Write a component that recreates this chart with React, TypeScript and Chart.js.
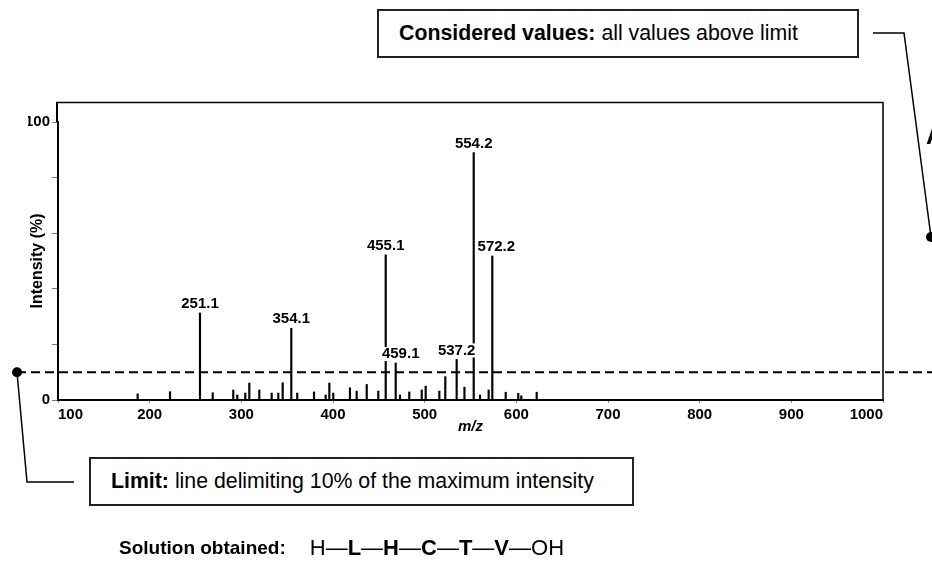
import React, { useEffect, useRef } from 'react';
import { Chart, registerables } from 'chart.js';

Chart.register(...registerables);

// ---- data ----
const minorMz = [186.9, 222.2, 268.8, 291.2, 295.6, 304.3, 308.7, 319.6, 333.1, 340.3, 345.1, 361, 379.3, 392, 396, 400.3, 418.5, 425.8, 436.8, 449.4, 473.1, 483.2, 496.8, 501.1, 516, 522.5, 543.4, 560.4, 569.8, 588.4, 602.1, 605.4, 622.2];
const minorIntensity = [2.2, 3.0, 2.6, 3.6, 1.8, 2.5, 6.1, 3.6, 2.5, 2.5, 6.2, 2.5, 2.9, 1.8, 6.1, 2.5, 4.4, 3.2, 5.6, 3.2, 1.8, 2.9, 3.6, 5.0, 3.2, 8.4, 4.6, 1.8, 3.6, 2.8, 2.4, 1.5, 2.8];
const labeledMz = [254.9, 354.5, 457.5, 468.4, 534.9, 553.5, 573.8];
const labeledIntensity = [31.3, 25.8, 52.2, 13.3, 14.6, 89, 51.8];
const labeledText = ['251.1', '354.1', '455.1', '459.1', '537.2', '554.2', '572.2'];
const xMin = 100;
const xMax = 1000;
const xStep = 100;
const yMin = 0;
const yMax = 100;
const frameTop = 107;
const yTicks = [0, 20, 40, 60, 80, 100];
const yLabeledTicks = [0, 100];
const limitPercent = 10;

const FONT = '"Liberation Sans", Arial, Helvetica, sans-serif';
const LABEL_DX: Record<string, number> = { '459.1': 5, '572.2': 4 };

const overlayPlugin = {
  id: 'overlay',
  afterDatasetsDraw(chart: any) {
    const { ctx, chartArea } = chart;
    const x = chart.scales.x;
    const y = chart.scales.y;
    const ft = y.getPixelForValue(frameTop);
    ctx.save();
    // frame: extension of the left axis, top and right lines
    ctx.strokeStyle = '#000';
    ctx.lineWidth = 2;
    ctx.beginPath();
    ctx.moveTo(chartArea.left - 1, chartArea.top);
    ctx.lineTo(chartArea.left - 1, ft);
    ctx.stroke();
    ctx.lineWidth = 1.5;
    ctx.beginPath();
    ctx.moveTo(chartArea.left - 2, ft);
    ctx.lineTo(chartArea.right, ft);
    ctx.lineTo(chartArea.right, chartArea.bottom);
    ctx.stroke();

    // peak labels
    ctx.font = 'bold 15px ' + FONT;
    ctx.textAlign = 'center';
    ctx.textBaseline = 'middle';
    labeledMz.forEach((mz, i) => {
      const t = labeledText[i];
      const px = x.getPixelForValue(mz) + (LABEL_DX[t] || 0);
      const py = y.getPixelForValue(labeledIntensity[i]) - 9;
      const w = ctx.measureText(t).width;
      ctx.fillStyle = '#fff';
      ctx.fillRect(px - w / 2 - 1, py - 7, w + 2, 14);
      ctx.fillStyle = '#000';
      ctx.fillText(t, px, py);
    });

    // limit dashed line
    const ly = y.getPixelForValue(limitPercent);
    ctx.strokeStyle = '#000';
    ctx.lineWidth = 2;
    ctx.setLineDash([9, 5]);
    ctx.beginPath();
    ctx.moveTo(17, ly);
    ctx.lineTo(chart.width, ly);
    ctx.stroke();
    ctx.setLineDash([]);

    // left dot + connector to the limit box
    ctx.fillStyle = '#000';
    ctx.beginPath();
    ctx.arc(17, ly, 5, 0, Math.PI * 2);
    ctx.fill();
    ctx.lineWidth = 1.5;
    ctx.beginPath();
    ctx.moveTo(17, ly);
    ctx.lineTo(27, 482);
    ctx.lineTo(74, 482);
    ctx.stroke();

    // right connector from the "considered values" box
    ctx.beginPath();
    ctx.moveTo(873, 33);
    ctx.lineTo(904, 33);
    ctx.lineTo(931, 237);
    ctx.stroke();
    ctx.beginPath();
    ctx.arc(931, 237, 5, 0, Math.PI * 2);
    ctx.fill();

    // cut-off panel letter
    ctx.font = 'bold 25px ' + FONT;
    ctx.textAlign = 'left';
    ctx.textBaseline = 'alphabetic';
    ctx.fillText('A', 926, 144);
    ctx.restore();
  },
};

export default function App() {
  const canvasRef = useRef<HTMLCanvasElement | null>(null);

  useEffect(() => {
    document.body.style.margin = '0';
    const canvas = canvasRef.current;
    if (!canvas) return;
    Chart.defaults.font.family = FONT;
    const chart = new Chart(canvas, {
      type: 'bar',
      data: {
        datasets: [
          {
            data: minorMz.map((m, i) => ({ x: m, y: minorIntensity[i] })),
            backgroundColor: '#000',
            borderWidth: 0,
            barThickness: 1.5,
            grouped: false,
          } as any,
          {
            data: labeledMz.map((m, i) => ({ x: m, y: labeledIntensity[i] })),
            backgroundColor: '#000',
            borderWidth: 0,
            barThickness: 1.5,
            grouped: false,
          } as any,
        ],
      },
      options: {
        animation: false,
        responsive: false,
        devicePixelRatio: 1,
        layout: { padding: { left: 28, top: 122, right: 49, bottom: 140 } },
        plugins: { legend: { display: false }, tooltip: { enabled: false } },
        scales: {
          x: {
            type: 'linear',
            min: xMin,
            max: xMax,
            offset: false,
            grid: { display: true, drawOnChartArea: false, drawTicks: true, tickLength: 3, tickColor: '#888', offset: false },
            border: { display: true, color: '#000', width: 2 },
            ticks: {
              stepSize: xStep,
              align: 'inner',
              padding: 3,
              color: '#000',
              font: { size: 15, weight: 'bold' },
              maxRotation: 0,
              callback: (v: any) => String(v),
            },
            title: {
              display: true,
              text: 'm/z',
              color: '#000',
              padding: 0,
              font: { size: 15, weight: 'bold', style: 'italic' },
            },
            afterFit: (scale: any) => {
              scale.height = 36;
            },
          } as any,
          y: {
            type: 'linear',
            min: yMin,
            max: yMax,
            grid: { display: true, drawOnChartArea: false, drawTicks: true, tickLength: 6, tickColor: '#777' },
            border: { display: true, color: '#000', width: 2 },
            afterBuildTicks: (scale: any) => {
              scale.ticks = yTicks.map((v) => ({ value: v }));
            },
            ticks: {
              padding: 2,
              color: '#000',
              font: { size: 15, weight: 'bold' },
              callback: (v: any) => (yLabeledTicks.includes(Number(v)) ? String(v) : ''),
            },
            title: {
              display: true,
              text: 'Intensity (%)',
              color: '#000',
              padding: 0,
              font: { size: 16, weight: 'bold' },
            },
            afterFit: (scale: any) => {
              scale.width = 30;
            },
          } as any,
        },
      },
      plugins: [overlayPlugin],
    });
    return () => chart.destroy();
  }, []);

  const boxStyle: React.CSSProperties = {
    position: 'absolute',
    boxSizing: 'border-box',
    border: '2px solid #222',
    background: '#fff',
    display: 'flex',
    alignItems: 'center',
    fontFamily: FONT,
    fontSize: 21.3,
    color: '#000',
    whiteSpace: 'nowrap',
  };

  return (
    <div style={{ position: 'relative', width: 932, height: 576, background: '#fff', overflow: 'hidden' }}>
      <canvas ref={canvasRef} width={932} height={576} style={{ position: 'absolute', left: 0, top: 0, width: 932, height: 576 }} />
      <div style={{ ...boxStyle, left: 377, top: 9, width: 482, height: 49, paddingLeft: 20 }}>
        <b>Considered values:</b>&nbsp;all values above limit
      </div>
      <div style={{ ...boxStyle, left: 89, top: 457, width: 545, height: 49, paddingLeft: 20 }}>
        <b>Limit:</b>&nbsp;line delimiting 10% of the maximum intensity
      </div>
      <div
        style={{
          position: 'absolute',
          left: 119,
          top: 532,
          height: 32,
          display: 'flex',
          alignItems: 'center',
          fontFamily: FONT,
          color: '#000',
          whiteSpace: 'nowrap',
        }}
      >
        <b style={{ fontSize: 19 }}>Solution obtained:</b>
        <span style={{ fontSize: 22, marginLeft: 24 }}>
          H—<b>L</b>—<b>H</b>—<b>C</b>—<b>T</b>—<b>V</b>—OH
        </span>
      </div>
    </div>
  );
}
